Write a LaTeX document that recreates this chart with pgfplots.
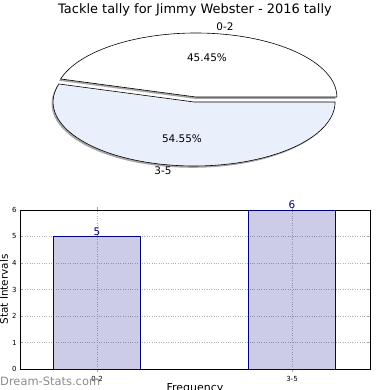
\documentclass[border=0pt]{standalone}
\usepackage{pgfplots}
\pgfplotsset{compat=1.18}
\usepackage{pgfplotstable}
\usepackage{fontspec}
\setmainfont{DejaVu Sans}
\definecolor{baredge}{RGB}{0,0,128}
\definecolor{piefill}{RGB}{234,240,251}
\pgfplotstableread{
x label value
0 0-2 5
1 3-5 6
}\tallydata
\begin{document}
\begin{tikzpicture}[x=1bp,y=1bp]
\path[use as bounding box] (0,0) rectangle (390,390);
% title
\node at (195,380) {\fontsize{13}{15}\selectfont Tackle tally for Jimmy Webster - 2016 tally};
% pie
\pgfmathsetmacro{\angA}{360*5/11}
\begin{axis}[at={(195bp,290.5bp)}, anchor=center, scale only axis,
  width=282bp, height=128bp, xmin=-1, xmax=1, ymin=-1, ymax=1, hide axis, clip=false]
  % shadows
  \fill[gray!70, shift={(-1.5bp,-1.8bp)}] (axis cs:0,0) ++(0.9bp,2.5bp) -- ++(141bp,0bp)
     arc[start angle=0, end angle=\angA, x radius=141bp, y radius=64bp] -- cycle;
  \fill[gray!70, shift={(-1.5bp,-1.8bp)}] (axis cs:0,0) ++(-0.9bp,-2.5bp) -- ++({141bp*cos(\angA)},{64bp*sin(\angA)})
     arc[start angle=\angA, end angle=360, x radius=141bp, y radius=64bp] -- cycle;
  % wedges
  \draw[black, line width=0.6bp, fill=white] (axis cs:0,0) ++(0.9bp,2.5bp) -- ++(141bp,0bp)
     arc[start angle=0, end angle=\angA, x radius=141bp, y radius=64bp] -- cycle;
  \draw[black, line width=0.6bp, fill=piefill] (axis cs:0,0) ++(-0.9bp,-2.5bp) -- ++({141bp*cos(\angA)},{64bp*sin(\angA)})
     arc[start angle=\angA, end angle=360, x radius=141bp, y radius=64bp] -- cycle;
\end{axis}
\node at (225,363) {\fontsize{10.5}{12}\selectfont 0-2};
\node at (207,332) {\fontsize{10.5}{12}\selectfont 45.45\%};
\node at (182,251) {\fontsize{10.5}{12}\selectfont 54.55\%};
\node at (163,219) {\fontsize{10.5}{12}\selectfont 3-5};
% bars
\begin{axis}[at={(20bp,21bp)}, anchor=south west, scale only axis,
  width=350bp, height=159bp, xmin=-0.395, xmax=1.4, ymin=0, ymax=6,
  xtick={0,1}, xticklabels={0-2,3-5}, ytick={0,1,2,3,4,5,6},
  grid=major, grid style={dotted, gray!60, line width=0.8bp},
  axis line style={line width=0.8bp},
  tick align=inside, major tick length=3bp, tick style={gray!70},
  ticklabel style={font=\fontsize{7}{8}\selectfont},
  xticklabel style={yshift=-1bp},
  /pgf/number format/assume math mode=true,
  xlabel={Frequency}, ylabel={Stat Intervals},
  xlabel style={at={(axis description cs:0.5,0)}, anchor=north, yshift=-11bp, font=\fontsize{11}{12}\selectfont},
  ylabel style={at={(axis description cs:-0.0457,0.5)}, anchor=center, font=\fontsize{10.5}{12}\selectfont},
  ybar, bar width=0.446, bar shift=0pt,
  nodes near coords, nodes near coords style={font=\fontsize{10.5}{12}\selectfont, text=baredge, text opacity=1, fill opacity=1, opacity=1, anchor=south, inner sep=0.5bp},
]
\addplot[draw=baredge, fill=baredge, fill opacity=0.2, draw opacity=1, line width=0.8bp] table[x=x, y=value] {\tallydata};
\end{axis}
\node[anchor=west, text=gray!90, inner sep=0pt] at (0,9) {\fontsize{11.5}{13}\selectfont Dream-Stats.com};
\end{tikzpicture}
\end{document}
